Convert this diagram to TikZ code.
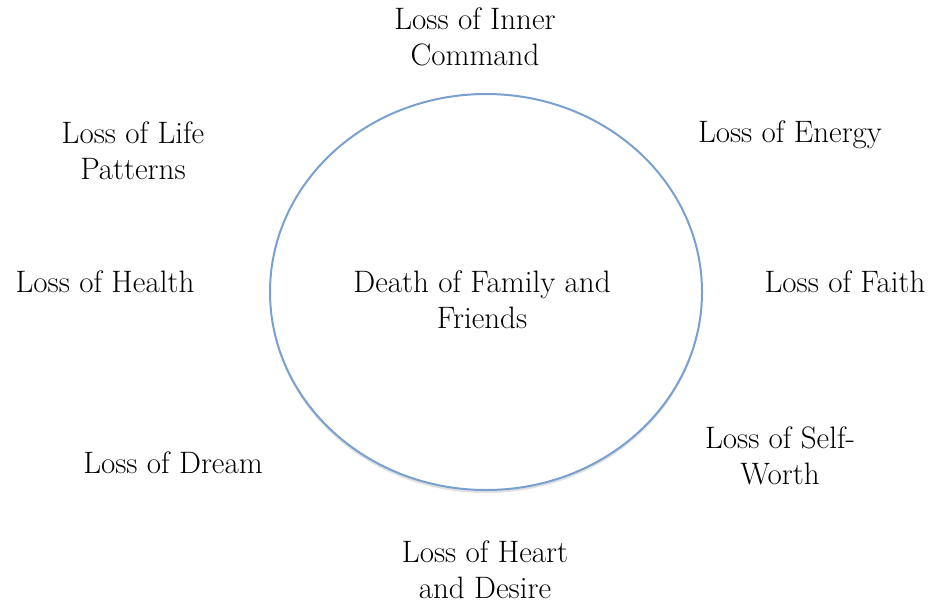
\documentclass[tikz,border=0pt]{standalone}
\usetikzlibrary{shapes.geometric}
\usetikzlibrary{shadows}

\definecolor{ringblue}{RGB}{122,160,208}

\begin{document}
\begin{tikzpicture}[x=1pt, y=-1pt,
  loss/.style={align=center, font=\fontsize{31}{36}\selectfont},
  ring/.style={ellipse, draw=ringblue, line width=2pt, minimum width=432pt, minimum height=396pt, inner sep=0pt,
    drop shadow={shadow xshift=0pt, shadow yshift=-3pt, opacity=.12, fill=black}, fill=white}]
  \useasboundingbox (0,0) rectangle (939,603);
  \node[ring] (circle) at (486,292) {};
  \node[loss] (death) at (482,300) {Death of Family and\\ Friends};
  \node[loss] (inner) at (475,37) {Loss of Inner\\ Command};
  \node[loss] (life) at (133,151) {Loss of Life\\ Patterns};
  \node[loss] (energy) at (790,135) {Loss of Energy};
  \node[loss] (health) at (105,282) {Loss of Health};
  \node[loss] (faith) at (845,282) {Loss of Faith};
  \node[loss] (worth) at (780,456) {Loss of Self-\\ Worth};
  \node[loss] (dream) at (173,463) {Loss of Dream};
  \node[loss] (heart) at (485,570) {Loss of Heart\\ and Desire};
\end{tikzpicture}
\end{document}
